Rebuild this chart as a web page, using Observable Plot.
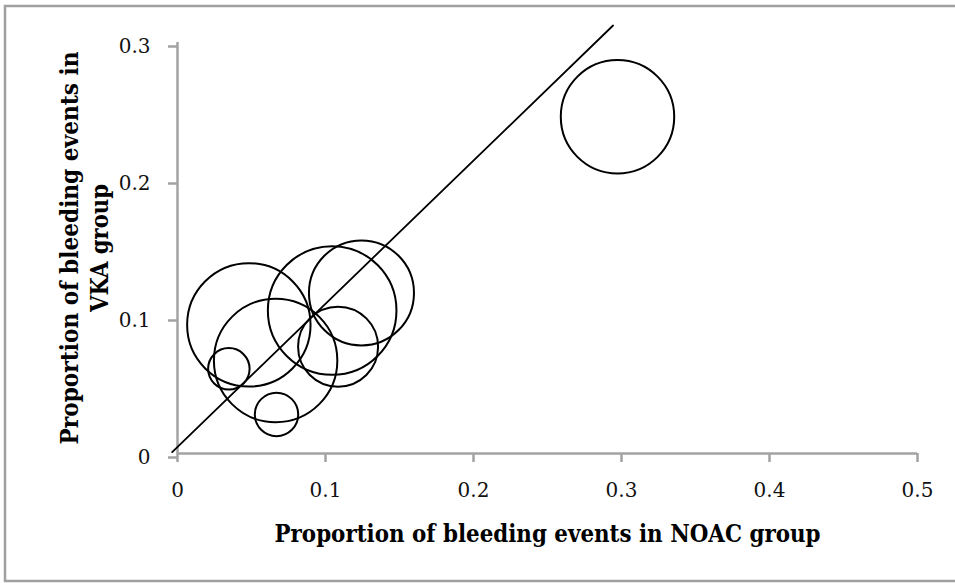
<!DOCTYPE html>
<html>
<head>
<meta charset="utf-8">
<script src="https://cdn.jsdelivr.net/npm/d3@7"></script>
<script src="https://cdn.jsdelivr.net/npm/@observablehq/plot@0.6"></script>
<style>
  html, body { margin: 0; padding: 0; background: #fff; }
  #chart svg { display: block; }
</style>
</head>
<body>
<div id="chart"></div>
<script>
// Bubble data
const noac = [0.0347, 0.0669, 0.0482, 0.0663, 0.1085, 0.1045, 0.1243, 0.2973];
const vka  = [0.0618, 0.0285, 0.0939, 0.0679, 0.0780, 0.1044, 0.1172, 0.2458];
const bubbleSize = [10.4, 11.4, 92.1, 92.1, 38.7, 100, 66.7, 77.8];

// Reference line drawn on the chart
const lineX = [-0.0036, 0.2943];
const lineY = [0.001, 0.3124];

// Ticks and titles
const xTicks = [0, 0.1, 0.2, 0.3, 0.4, 0.5];
const yTicks = [0, 0.1, 0.2, 0.3];
const xTitle = "Proportion of bleeding events in NOAC group";
const yTitle1 = "Proportion of bleeding events in";
const yTitle2 = "VKA group";

const bubbles = noac.map((x, i) => ({x, y: vka[i], size: bubbleSize[i]}));
const refLine = lineX.map((x, i) => ({x, y: lineY[i]}));

const axisGray = "#a3a3a3";

const chart = Plot.plot({
  width: 955,
  height: 583,
  marginLeft: 177,
  marginRight: 38,
  marginTop: 42,
  marginBottom: 130,
  style: {fontFamily: "DejaVu Serif", fontSize: "20px", background: "white", color: "black", overflow: "visible"},
  x: {domain: [0, 0.5]},
  y: {domain: [0, 0.3]},
  r: {type: "sqrt", domain: [0, 100], range: [0, 64.3]},
  marks: [
    Plot.ruleY([0], {stroke: axisGray, strokeWidth: 2.5}),
    Plot.ruleX([0], {stroke: axisGray, strokeWidth: 2.5}),
    Plot.axisX({ticks: xTicks, tickFormat: d => String(d), tickSize: 9, tickPadding: 20,
      stroke: axisGray, strokeWidth: 2.5, fill: "#111", label: null, fontSize: 20}),
    Plot.axisY({ticks: yTicks, tickFormat: d => String(d), tickSize: 9, tickPadding: 18, dy: 4,
      stroke: axisGray, strokeWidth: 2.5, fill: "#111", label: null, fontSize: 20}),
    Plot.line(refLine, {x: "x", y: "y", stroke: "black", strokeWidth: 1.8}),
    Plot.dot(bubbles, {x: "x", y: "y", r: "size", stroke: "black", strokeWidth: 2, fill: "none"}),
    Plot.text([xTitle], {text: d => d, frameAnchor: "bottom", dy: 88, lineAnchor: "bottom", textAnchor: "middle",
      fontWeight: "bold", fontSize: 24, fill: "black"}),
    Plot.text([yTitle1], {text: d => d, frameAnchor: "left", dx: -100, rotate: -90, lineAnchor: "bottom", textAnchor: "middle",
      fontWeight: "bold", fontSize: 24, fill: "black"}),
    Plot.text([yTitle2], {text: d => d, frameAnchor: "left", dx: -70, rotate: -90, lineAnchor: "bottom", textAnchor: "middle",
      fontWeight: "bold", fontSize: 24, fill: "black"})
  ]
});

document.getElementById("chart").appendChild(chart);

// Fit title widths to the reference
const svg = d3.select(chart);
const lengths = {[xTitle]: 546, [yTitle1]: 393, [yTitle2]: 128};
svg.selectAll("text").each(function() {
  const t = this.textContent;
  if (lengths[t]) {
    d3.select(this).attr("textLength", lengths[t]).attr("lengthAdjust", "spacingAndGlyphs");
  }
});

// Outer chart border (open on the right as in the reference)
svg.insert("rect", ":first-child")
  .attr("x", 5).attr("y", 6).attr("width", 1000).attr("height", 575)
  .attr("fill", "none").attr("stroke", "#a0a0a0").attr("stroke-width", 2.5);
</script>
</body>
</html>
